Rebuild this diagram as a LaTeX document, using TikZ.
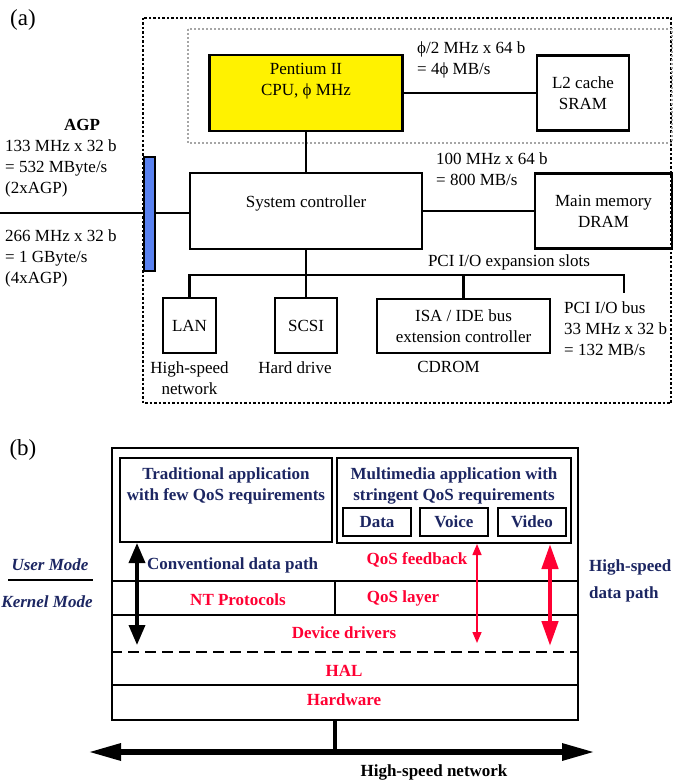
\documentclass[tikz,border=0pt]{standalone}
\usepackage{fontspec}
\setmainfont{Liberation Serif}
\usepackage{tikz}
\usepackage{xcolor}
\usetikzlibrary{arrows.meta, positioning}
\definecolor{navy}{RGB}{28,38,98}
\definecolor{qosred}{RGB}{255,0,51}
\definecolor{agpblue}{RGB}{90,130,240}
\tikzstyle{block} = [rectangle, draw, line width=2.5pt, align=center, inner sep=0pt]
\tikzstyle{blocky} = [block, fill=yellow]
\tikzstyle{layerbox} = [rectangle, draw, line width=2pt, align=center, inner sep=0pt]
\tikzstyle{app} = [layerbox, text=navy, font=\bfseries]
\tikzstyle{bar} = [rectangle, draw, line width=2pt, fill=agpblue, inner sep=0pt, minimum width=11pt, minimum height=114pt]
\tikzstyle{txt} = [align=center, inner sep=0pt]
\tikzstyle{txtl} = [align=left, inner sep=0pt]
\tikzstyle{apptxt} = [txt, text=navy, font=\bfseries]
\tikzstyle{layer} = [txt, text=qosred, font=\bfseries]
\tikzstyle{mode} = [txt, text=navy, font=\bfseries\itshape]
\tikzstyle{line} = [draw, line width=2.5pt]
\tikzstyle{sepline} = [draw, line width=2pt]
\tikzstyle{outerdot} = [draw, line width=2.5pt, dash pattern=on 2.5pt off 2pt]
\tikzstyle{innerdot} = [draw, gray!70, line width=1.8pt, dash pattern=on 2pt off 2pt]
\tikzstyle{convpath} = [draw, line width=3.5pt, {Triangle[length=20pt,width=16pt]}-{Triangle[length=20pt,width=16pt]}]
\tikzstyle{feedback} = [draw, qosred, line width=1.5pt, {Triangle[length=11pt,width=9pt]}-{Triangle[length=11pt,width=9pt]}]
\tikzstyle{fastpath} = [draw, qosred, line width=4.5pt, {Triangle[length=25pt,width=16pt]}-{Triangle[length=25pt,width=16pt]}]
\tikzstyle{netline} = [draw, line width=6pt, {Triangle[length=33pt,width=16pt]}-{Triangle[length=33pt,width=16pt]}]

\begin{document}
\fontsize{17}{21}\selectfont
\begin{tikzpicture}[x=1pt, y=-1pt]
\useasboundingbox (0,0) rectangle (675,781);

\node [txt] (taga) at (23,20) {\fontsize{23}{26}\selectfont(a)};
\path [outerdot] (143,18) rectangle (671,403);
\path [innerdot] (188,29) rectangle (672,143);

\node [blocky, minimum width=193pt, minimum height=76pt] (cpu) at (306,93) {};
\node [txt] (cputxt) at (306,81) {Pentium II\\CPU, ϕ MHz};
\node [block, minimum width=92pt, minimum height=75pt] (l2) at (583,93) {L2 cache\\SRAM};
\node [txtl, anchor=west] (l2bw) at (417,59.5) {ϕ/2 MHz x 64 b\\= 4ϕ MB/s};

\node [block, minimum width=232pt, minimum height=76pt] (sys) at (306,211) {};
\node [txt] (systxt) at (306,203) {System controller};
\node [block, minimum width=137pt, minimum height=75pt] (mem) at (603.5,211) {Main memory\\DRAM};
\node [txtl, anchor=west] (membw) at (436,169.5) {100 MHz x 64 b\\= 800 MB/s};

\coordinate (agpin) at (0,213);
\path [line] (agpin) -- (agpin -| sys.west);
\node [bar] (agp) at (149.5,214) {};
\node [txt, font=\bfseries] (agplbl) at (82,125) {AGP};
\node [txtl, anchor=west] (agp2x) at (5,168) {133 MHz x 32 b\\= 532 MByte/s\\(2xAGP)};
\node [txtl, anchor=west] (agp4x) at (5,258) {266 MHz x 32 b\\= 1 GByte/s\\(4xAGP)};

\node [block, minimum width=53pt, minimum height=55pt] (lan) at (189.5,325.5) {LAN};
\node [block, minimum width=62pt, minimum height=55pt] (scsi) at (306,325.5) {SCSI};
\node [block, minimum width=173pt, minimum height=54pt] (isa) at (463.5,326) {ISA / IDE bus\\extension controller};
\node [txt, below=7pt of lan] (lanlbl) {High-speed\\network};
\node [txt, below=7pt of scsi, xshift=-11pt] (scsilbl) {Hard drive};
\node [txt, below=7pt of isa, xshift=-15pt] (cdrom) {CDROM};
\node [txt] (slots) at (509,262) {PCI I/O expansion slots};
\node [txtl, anchor=west] (pcibus) at (564,329) {PCI I/O bus\\33 MHz x 32 b\\= 132 MB/s};

\coordinate (busr) at (624,275);
\coordinate (busend) at (624,293);
\path [line] (cpu.east) -- (l2.west);
\path [line] (cpu.south) -- (sys.north);
\path [line] (sys.east) -- (mem.west);
\path [line] (sys.south) -- (scsi.north);
\path [line] (lan.north) |- (busr) -- (busend);
\path [line] (isa.north) -- (isa.north |- busr);

\node [txt] (tagb) at (23,450) {\fontsize{23}{26}\selectfont(b)};
\node [layerbox, minimum width=466pt, minimum height=272pt] (stack) at (345,584) {};
\node [app, minimum width=212pt, minimum height=84pt] (trad) at (226,500) {};
\node [apptxt] (tradtxt) at (226,486) {Traditional application\\with few QoS requirements};
\node [app, minimum width=234pt, minimum height=85pt] (mm) at (454,500.5) {};
\node [apptxt] (mmtxt) at (454,486) {Multimedia application with\\stringent QoS requirements};
\node [app, minimum width=68pt, minimum height=28pt] (data) at (377,522) {Data};
\node [app, minimum width=68pt, minimum height=28pt] (voice) at (454,522) {Voice};
\node [app, minimum width=68pt, minimum height=28pt] (video) at (532,522) {Video};

\path [sepline] (stack.west |- 0,581) -- (stack.east |- 0,581);
\path [sepline] (stack.west |- 0,615) -- (stack.east |- 0,615);
\path [sepline] (335,581) -- (335,615);
\path [sepline, dash pattern=on 11pt off 6pt] (stack.west |- 0,652) -- (stack.east |- 0,652);
\path [sepline] (stack.west |- 0,685) -- (stack.east |- 0,685);

\node [apptxt, anchor=west] (conv) at (147,565) {Conventional data path};
\node [layer] (fb) at (417,560) {QoS feedback};
\node [layer] (ntp) at (238,600) {NT Protocols};
\node [layer] (qosl) at (403,598) {QoS layer};
\node [layer] (drv) at (344,633) {Device drivers};
\node [layer] (hal) at (344,671) {HAL};
\node [layer] (hw) at (344,700) {Hardware};

\node [mode] (user) at (50,565) {User Mode};
\node [mode] (kernel) at (47,602) {Kernel Mode};
\path [draw, line width=1.5pt] (8,580) -- (93,580);
\node [apptxt, align=left, anchor=west] (hspath) at (589,580.5) {High-speed\\[6pt]data path};

\coordinate (convbot) at (137,645);
\coordinate (fbbot) at (477,643);
\coordinate (fastbot) at (550,646);
\path [convpath] (trad.south -| convbot) -- (convbot);
\path [feedback] (mm.south -| fbbot) -- (fbbot);
\path [fastpath] (mm.south -| fastbot) -- (fastbot);

\coordinate (netl) at (88,752);
\coordinate (netr) at (595,752);
\coordinate (tap) at (335,752);
\path [netline] (netl) -- (netr);
\path [draw, line width=4.5pt] (tap |- stack.south) -- (tap);
\node [txt, font=\bfseries] (hsnet) at (434,772) {High-speed network};

\end{tikzpicture}
\end{document}
